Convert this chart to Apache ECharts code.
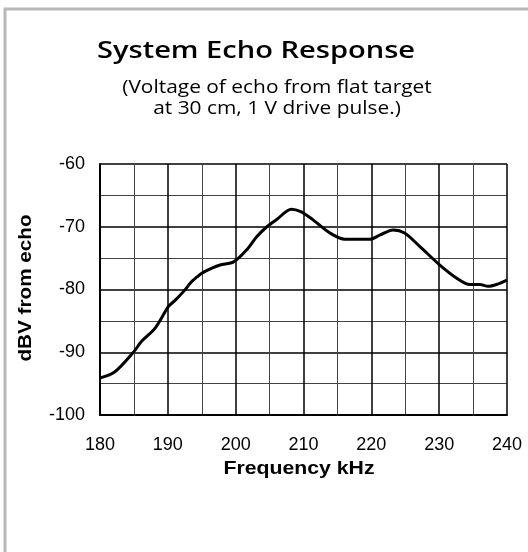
<!DOCTYPE html>
<html>
<head>
<meta charset="utf-8">
<script src="https://cdn.jsdelivr.net/npm/echarts@6/dist/echarts.min.js"></script>
<style>html,body{margin:0;padding:0;background:#fff}#c{width:528px;height:552px}</style>
</head>
<body>
<div id="c"></div>
<script>
const titleText = 'System Echo Response';
const subtitleText = '(Voltage of echo from flat target\nat 30 cm, 1 V drive pulse.)';
const xName = 'Frequency kHz';
const yName = 'dBV from echo';
const freq = [180, 182.2, 185, 186.1, 188.1, 190.1, 191.1, 192.5, 193.3, 194.3, 195.0, 196.5, 197.7, 199.7, 201.6, 203.1, 204.6, 206.1, 208.2, 209.6, 211.4, 213.9, 216.1, 219.8, 221.3, 223.2, 224.9, 227.2, 230.1, 232.6, 234.5, 236.0, 237.2, 238.7, 240];
const dbv = [-94.1, -93.1, -89.9, -88.3, -86.2, -82.7, -81.7, -80.1, -79.0, -78.0, -77.4, -76.6, -76.1, -75.6, -73.7, -71.6, -70.0, -68.8, -67.2, -67.6, -68.9, -71.0, -72.0, -72.0, -71.3, -70.5, -71.0, -73.2, -76.1, -78.2, -79.2, -79.2, -79.5, -79.1, -78.5];

const chart = echarts.init(document.getElementById('c'), null, {renderer: 'canvas'});
const axisFont = {fontSize: 18, color: '#000', fontFamily: 'Liberation Sans, Arial, sans-serif'};
const option = {
  animation: false,
  backgroundColor: '#fff',
  grid: {left: 100, top: 164, right: 21, bottom: 137},
  xAxis: {
    type: 'value', min: 180, max: 240, interval: 10,
    axisLine: {show: true, lineStyle: {color: '#000', width: 2}},
    axisTick: {show: false},
    axisLabel: Object.assign({margin: 21}, axisFont),
    splitLine: {show: true, lineStyle: {color: '#000', width: 1.5}},
    minorTick: {show: false, splitNumber: 2},
    minorSplitLine: {show: true, lineStyle: {color: '#444', width: 1}}
  },
  yAxis: {
    type: 'value', min: -100, max: -60, interval: 10,
    axisLine: {show: true, lineStyle: {color: '#000', width: 2}},
    axisTick: {show: false},
    axisLabel: Object.assign({margin: 15}, axisFont),
    splitLine: {show: true, lineStyle: {color: '#000', width: 1.5}},
    minorTick: {show: false, splitNumber: 2},
    minorSplitLine: {show: true, lineStyle: {color: '#444', width: 1}}
  },
  series: [{
    type: 'line',
    data: freq.map((f, i) => [f, dbv[i]]),
    showSymbol: false,
    smooth: 0.3,
    lineStyle: {color: '#000', width: 3},
    z: 5
  }],
  graphic: [
    {type: 'rect', shape: {x: 5, y: 9, width: 540, height: 560}, style: {fill: 'none', stroke: '#b8b8b8', lineWidth: 3}, silent: true, z: -10},
    {type: 'text', x: 256, y: 51, scaleX: 1.21, style: {text: titleText, font: '600 24px "Open Sans", sans-serif', fill: '#000', textAlign: 'center', textVerticalAlign: 'middle'}},
    {type: 'text', x: 277, y: 98, scaleX: 1.1, style: {text: subtitleText, font: '19px "Open Sans", sans-serif', lineHeight: 21, fill: '#000', textAlign: 'center', textVerticalAlign: 'middle'}},
    {type: 'text', x: 299, y: 469, scaleX: 1.18, style: {text: xName, font: 'bold 18px "Liberation Sans", Arial, sans-serif', fill: '#000', textAlign: 'center', textVerticalAlign: 'middle'}},
    {type: 'text', x: 26, y: 288, rotation: Math.PI / 2, scaleX: 1.15, style: {text: yName, font: 'bold 18px "Liberation Sans", Arial, sans-serif', fill: '#000', textAlign: 'center', textVerticalAlign: 'middle'}}
  ]
};
chart.setOption(option);
</script>
</body>
</html>
